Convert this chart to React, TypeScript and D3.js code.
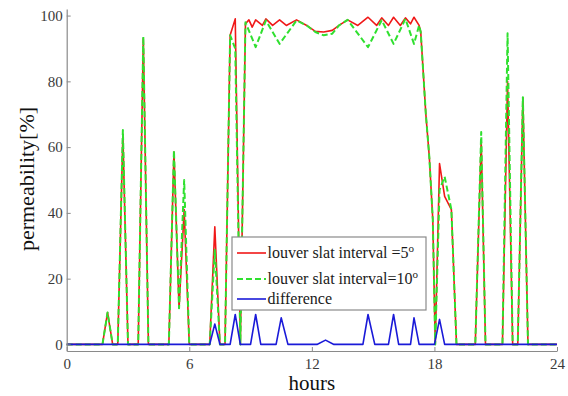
import React, { useEffect, useRef } from "react";
import * as d3 from "d3";

const redHours = [
  0, 1.75, 2.0, 2.25, 2.5, 2.75, 3.0, 3.5, 3.75, 4.0, 5.0, 5.25, 5.5, 5.75, 6.0,
  7.0, 7.25, 7.5, 7.75, 8.0, 8.25, 8.5, 8.75, 8.92, 9.08, 9.25, 9.58, 9.75, 10.08, 10.42, 10.75, 11.25,
  11.75, 12.17, 12.58, 13.0, 13.33, 13.75, 14.25, 14.75, 15.17, 15.42, 15.75, 16.0, 16.33, 16.58, 16.83, 17.0, 17.25,
  17.33, 17.58, 17.75, 17.92, 18.04, 18.25, 18.5, 18.83, 19.08, 20.0, 20.29, 20.5, 21.33, 21.58, 21.83, 22.08, 22.33, 22.58, 24,
];
const redValues = [
  0, 0, 9.7, 0, 0, 64, 0, 0, 93, 0, 0, 58.5, 11, 41, 0,
  0, 35.8, 0, 0, 94, 99, 0, 97.5, 98.7, 96.5, 98.7, 97, 99, 97, 98.7, 97, 98.7,
  97, 95.2, 95, 95.5, 97, 98.7, 97, 99.5, 97, 99.3, 97, 99.5, 97, 99.3, 97.5, 99.5, 97,
  95, 70, 57, 38, 0, 55, 45, 41, 0, 0, 62, 0, 0, 80, 0, 0, 75, 0, 0,
];

const greenHours = [
  0, 1.75, 2.0, 2.25, 2.5, 2.75, 3.0, 3.5, 3.75, 4.0, 5.0, 5.25, 5.5, 5.75, 6.0,
  7.0, 7.25, 7.5, 7.75, 8.0, 8.25, 8.5, 8.75, 9.25, 9.75, 10.42, 11.25,
  11.75, 12.17, 12.58, 13.0, 13.33, 13.75, 14.75, 15.42, 16.0, 16.58, 17.0, 17.25,
  17.33, 17.58, 17.75, 17.92, 18.04, 18.25, 18.5, 18.83, 19.08, 20.0, 20.29, 20.5, 21.33, 21.58, 21.83, 22.08, 22.33, 22.58, 24,
];
const greenValues = [
  0, 0, 9.7, 0, 0, 65.2, 0, 0, 93.6, 0, 0, 59, 11, 50, 0,
  0, 28.8, 0, 0, 94, 90, 0, 98, 90.4, 98.5, 91.4, 98.5,
  97, 95, 94, 94.5, 97, 98.7, 90.4, 98.6, 91.4, 99, 91.4, 97,
  95, 70, 57, 38, 0, 47, 51, 41, 0, 0, 64.6, 0, 0, 94.6, 0, 0, 75.2, 0, 0,
];

const diffHours = [
  0, 7.0, 7.25, 7.5, 8.0, 8.25, 8.5, 9.0, 9.25, 9.5, 10.25, 10.5, 10.83,
  12.25, 12.67, 13.08, 14.5, 14.75, 15.08, 15.75, 16.0, 16.25, 16.83, 17.0, 17.25,
  18.0, 18.25, 18.5, 24,
];
const diffValues = [
  0, 0, 6.2, 0, 0, 9.1, 0, 0, 9.1, 0, 0, 8.1, 0,
  0, 1.3, 0, 0, 9.1, 0, 0, 9.1, 0, 0, 8.1, 0,
  0, 7.6, 0, 0,
];

const xTicks = [0, 6, 12, 18, 24];
const yTicks = [0, 20, 40, 60, 80, 100];

const legendItems = [
  { label: "louver slat interval =5", sup: "o", color: "#f01818", dash: "" },
  { label: "louver slat interval=10", sup: "o", color: "#2fe02f", dash: "6,3" },
  { label: "difference", sup: "", color: "#1a1ad8", dash: "" },
];

const FONT = "Liberation Serif";

export default function App() {
  const ref = useRef<SVGSVGElement>(null);

  useEffect(() => {
    const svg = d3.select(ref.current);
    svg.selectAll("*").remove();

    const x = d3.scaleLinear().domain([0, 24]).range([66.7, 557]);
    const y = d3.scaleLinear().domain([-2, 102]).range([351, 9]);

    const line = d3
      .line<[number, number]>()
      .x((d) => x(d[0]))
      .y((d) => y(d[1]));

    const series = [
      { h: redHours, v: redValues, color: "#f01818", width: 1.6, dash: "" },
      { h: greenHours, v: greenValues, color: "#2fe02f", width: 2, dash: "6,3" },
      { h: diffHours, v: diffValues, color: "#1a1ad8", width: 1.6, dash: "" },
    ];

    const plot = svg.append("g");
    series.forEach((s) => {
      const pts = s.h.map((h, i) => [h, s.v[i]] as [number, number]);
      plot
        .append("path")
        .attr("d", line(pts) as string)
        .attr("fill", "none")
        .attr("stroke", s.color)
        .attr("stroke-width", s.width)
        .attr("stroke-dasharray", s.dash || null)
        .attr("stroke-linejoin", "round");
    });

    const xAxis = d3
      .axisBottom(x)
      .tickValues(xTicks)
      .tickSizeInner(-4)
      .tickSizeOuter(0)
      .tickPadding(7)
      .tickFormat(d3.format("d"));
    const yAxis = d3
      .axisLeft(y)
      .tickValues(yTicks)
      .tickSizeInner(-4)
      .tickSizeOuter(0)
      .tickPadding(4)
      .tickFormat(d3.format("d"));

    const gx = svg.append("g").attr("transform", `translate(0,${y(-2)})`).call(xAxis);
    const gy = svg.append("g").attr("transform", `translate(${x(0)},0)`).call(yAxis);
    [gx, gy].forEach((g) => {
      g.attr("font-family", FONT).attr("font-size", 15);
      g.select(".domain").attr("stroke", "#8a8a8a").attr("stroke-width", 1.2);
      g.selectAll(".tick line").attr("stroke", "#8a8a8a");
      g.selectAll(".tick text").attr("fill", "#3a3a3a").attr("font-family", FONT).attr("font-size", 15);
    });

    svg
      .append("text")
      .attr("x", x(12))
      .attr("y", 390)
      .attr("text-anchor", "middle")
      .attr("font-family", FONT)
      .attr("font-size", 21)
      .attr("fill", "#111")
      .text("hours");
    svg
      .append("text")
      .attr("transform", `translate(34,179) rotate(-90)`)
      .attr("text-anchor", "middle")
      .attr("font-family", FONT)
      .attr("font-size", 22)
      .attr("fill", "#111")
      .text("permeability[%]");

    const lg = svg.append("g");
    lg.append("rect")
      .attr("x", 232)
      .attr("y", 237)
      .attr("width", 194)
      .attr("height", 73)
      .attr("fill", "#fff")
      .attr("stroke", "#8a8a8a")
      .attr("stroke-width", 1.2);
    const rowY = [253, 279, 299];
    legendItems.forEach((it, i) => {
      const yy = rowY[i];
      lg.append("line")
        .attr("x1", 237)
        .attr("x2", 266)
        .attr("y1", yy)
        .attr("y2", yy)
        .attr("stroke", it.color)
        .attr("stroke-width", it.dash ? 2 : 1.6)
        .attr("stroke-dasharray", it.dash || null);
      const t = lg
        .append("text")
        .attr("x", 267.5)
        .attr("y", yy + 5)
        .attr("font-family", FONT)
        .attr("font-size", 16)
        .attr("fill", "#1a1a1a")
        .text(it.label);
      if (it.sup) {
        t.append("tspan").attr("dy", -6).attr("font-size", 11).text(it.sup);
      }
    });
  }, []);

  return (
    <svg
      ref={ref}
      width={568}
      height={396}
      fontFamily={FONT}
      style={{ position: "absolute", left: 0, top: 0, background: "#fff" }}
    />
  );
}
